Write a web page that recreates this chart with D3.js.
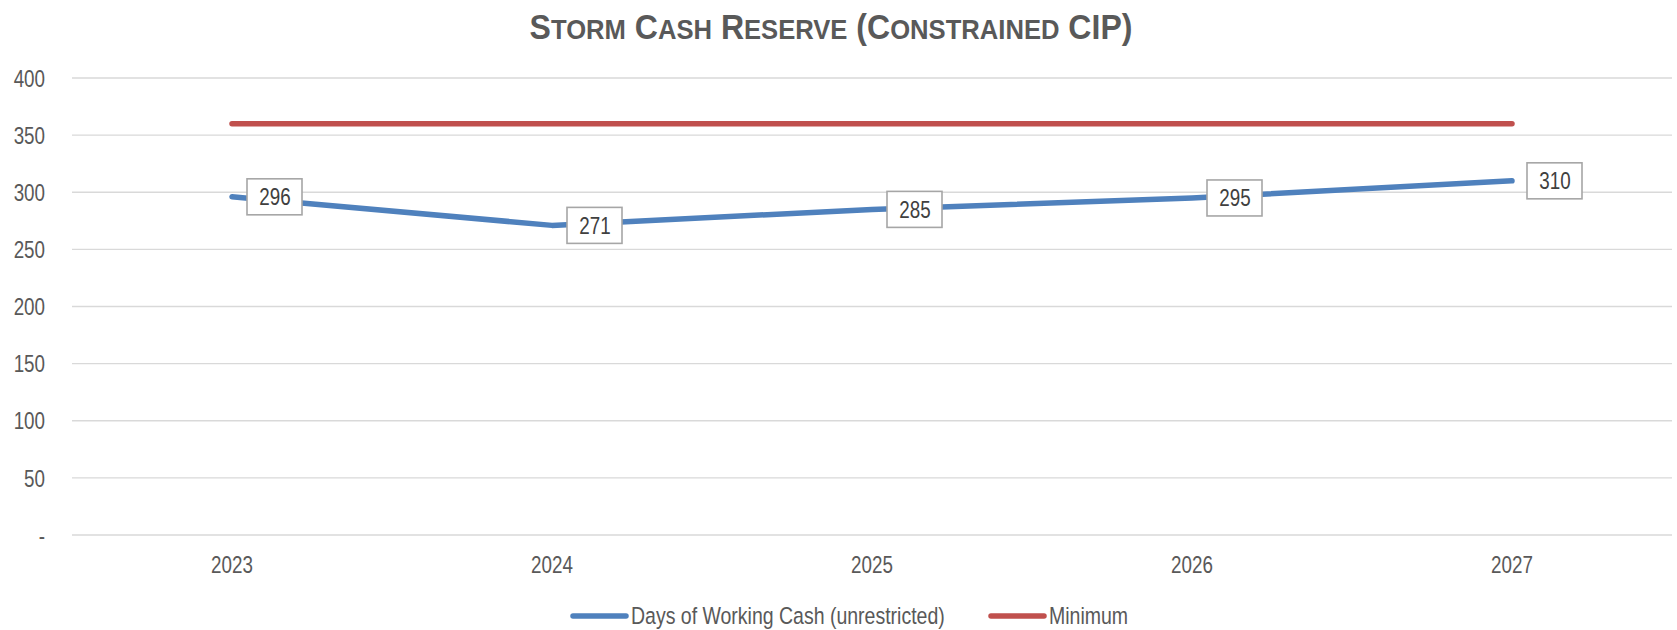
<!DOCTYPE html>
<html>
<head>
<meta charset="utf-8">
<script src="https://cdn.jsdelivr.net/npm/d3@7"></script>
<style>
    body { margin: 0; background: #fff; }
    svg text { font-family: "Liberation Sans", Arial, sans-serif; }
</style>
</head>
<body>
<div class="chart"></div>
<script>
// data
const years = ['2023', '2024', '2025', '2026', '2027'];
const daysOfCash = [296, 271, 285, 295, 310];
const minimum = [360, 360, 360, 360, 360];
const yTicks = [0, 50, 100, 150, 200, 250, 300, 350, 400];

const width = 1677, height = 630;
const margin = { top: 78, right: 5, bottom: 95, left: 72 };
const narrow = 'scale(0.8,1)'; // fake Arial Narrow

const svg = d3.select('.chart').append('svg')
    .attr('width', width)
    .attr('height', height);

const x = d3.scaleBand()
    .domain(years)
    .range([margin.left, width - margin.right]);

const y = d3.scaleLinear()
    .domain([0, 400])
    .range([height - margin.bottom, margin.top]);

const cx = d => x(d) + x.bandwidth() / 2;

// gridlines
svg.append('g')
    .selectAll('line')
    .data(yTicks)
    .join('line')
    .attr('x1', margin.left)
    .attr('x2', width - margin.right)
    .attr('y1', d => y(d))
    .attr('y2', d => y(d))
    .attr('stroke', '#d9d9d9')
    .attr('stroke-width', 1.3);

// y axis labels
const yAxis = d3.axisLeft(y)
    .tickValues(yTicks)
    .tickSize(0)
    .tickPadding(0)
    .tickFormat(d => d === 0 ? '-' : d);

svg.append('g')
    .attr('transform', 'translate(45,0)')
    .call(yAxis)
    .call(g => g.select('.domain').remove())
    .selectAll('text')
    .attr('font-size', 23.5)
    .attr('fill', '#595959')
    .attr('dy', '0.35em')
    .attr('transform', narrow);

// x axis labels
const xAxis = d3.axisBottom(x).tickSize(0).tickPadding(0);

svg.append('g')
    .attr('transform', `translate(0,${y(0) + 38})`)
    .call(xAxis)
    .call(g => g.select('.domain').remove())
    .selectAll('text')
    .attr('font-size', 23.5)
    .attr('fill', '#595959')
    .attr('y', 0)
    .attr('dy', 0)
    .attr('transform', narrow);

// lines
const line = d3.line()
    .x((d, i) => cx(years[i]))
    .y(d => y(d));

svg.append('path')
    .datum(minimum)
    .attr('d', line)
    .attr('fill', 'none')
    .attr('stroke', '#C0504D')
    .attr('stroke-width', 5.5)
    .attr('stroke-linecap', 'round');

svg.append('path')
    .datum(daysOfCash)
    .attr('d', line)
    .attr('fill', 'none')
    .attr('stroke', '#4F81BD')
    .attr('stroke-width', 5.5)
    .attr('stroke-linecap', 'round')
    .attr('stroke-linejoin', 'round');

// data labels
const labels = svg.append('g')
    .selectAll('g')
    .data(daysOfCash)
    .join('g')
    .attr('transform', (d, i) => `translate(${cx(years[i]) + 15},${y(d)})`);

labels.append('rect')
    .attr('x', 0)
    .attr('y', -18)
    .attr('width', 55)
    .attr('height', 36)
    .attr('fill', '#fff')
    .attr('stroke', '#a6a6a6')
    .attr('stroke-width', 1.6);

labels.append('g')
    .attr('transform', 'translate(28,0)')
    .append('text')
    .attr('dy', '0.35em')
    .attr('text-anchor', 'middle')
    .attr('font-size', 23.5)
    .attr('fill', '#404040')
    .attr('transform', narrow)
    .text(d => d);

// title, small caps done by hand
const titleText = 'Storm Cash Reserve (Constrained CIP)';
const runs = [];
for (const ch of titleText) {
    const small = ch !== ch.toUpperCase();
    const last = runs[runs.length - 1];
    if (last && last.small === small) last.text += ch.toUpperCase();
    else runs.push({ small, text: ch.toUpperCase() });
}

const title = svg.append('g')
    .attr('transform', 'translate(831,39)')
    .append('text')
    .attr('text-anchor', 'middle')
    .attr('font-weight', 'bold')
    .attr('fill', '#595959')
    .attr('transform', 'scale(0.915,1)');

title.selectAll('tspan')
    .data(runs)
    .join('tspan')
    .attr('font-size', d => d.small ? 28 : 35)
    .text(d => d.text);

// legend
const legendItems = [
    { name: 'Days of Working Cash (unrestricted)', color: '#4F81BD', x: 571 },
    { name: 'Minimum', color: '#C0504D', x: 989 }
];

const legend = svg.append('g')
    .selectAll('g')
    .data(legendItems)
    .join('g')
    .attr('transform', d => `translate(${d.x},616)`);

legend.append('line')
    .attr('x1', 2)
    .attr('x2', 55)
    .attr('stroke', d => d.color)
    .attr('stroke-width', 5.5)
    .attr('stroke-linecap', 'round');

legend.append('g')
    .attr('transform', 'translate(60,0)')
    .append('text')
    .attr('dy', '0.35em')
    .attr('font-size', 23.5)
    .attr('fill', '#595959')
    .attr('transform', 'scale(0.83,1)')
    .text(d => d.name);
</script>
</body>
</html>
